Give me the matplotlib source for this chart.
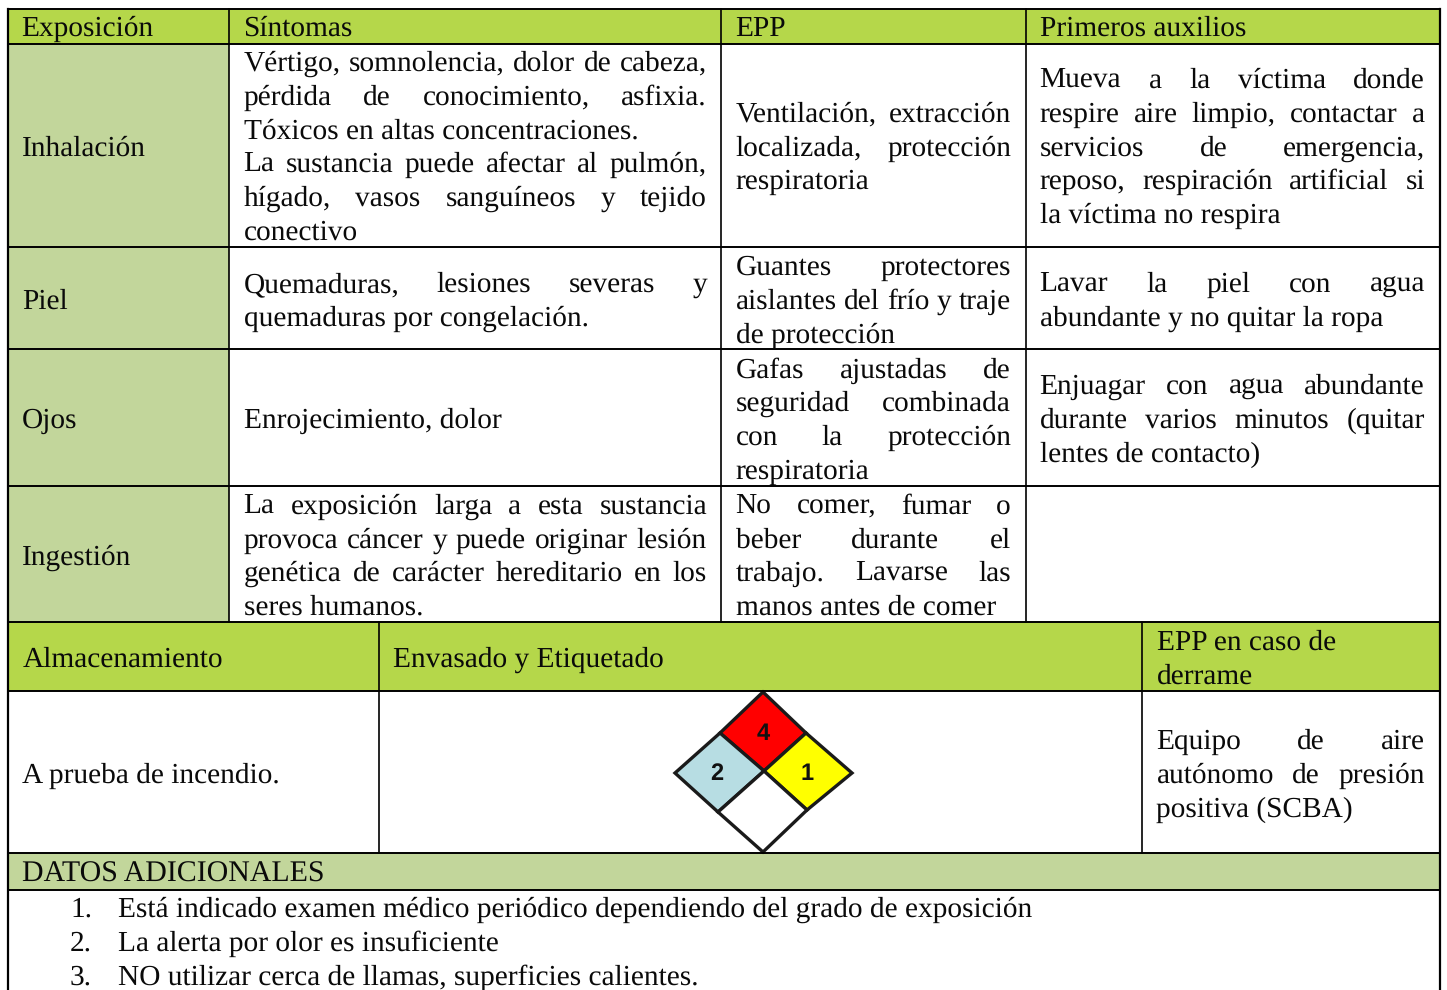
import matplotlib
matplotlib.use('Agg')
import matplotlib.pyplot as plt
from matplotlib.patches import Polygon, Rectangle

plt.rcParams['font.family'] = ['Liberation Serif', 'DejaVu Serif']
plt.rcParams['text.hinting'] = 'no_hinting'

VERDE = '#b5d74a'
VERDE_CLARO = '#c2d69b'
TAM = 21.12

# encabezados
encabezados = ['Exposición', 'Síntomas', 'EPP', 'Primeros auxilios']
exposicion = ['Inhalación', 'Piel', 'Ojos', 'Ingestión']

# cada linea: texto y si va justificada
sintomas = [
    [('Vértigo, somnolencia, dolor de cabeza,', 1), ('pérdida de conocimiento, asfixia.', 1),
     ('Tóxicos en altas concentraciones.', 0), ('La sustancia puede afectar al pulmón,', 1),
     ('hígado, vasos sanguíneos y tejido', 1), ('conectivo', 0)],
    [('Quemaduras, lesiones severas y', 1), ('quemaduras por congelación.', 0)],
    [('Enrojecimiento, dolor', 0)],
    [('La exposición larga a esta sustancia', 1), ('provoca cáncer y puede originar lesión', 1),
     ('genética de carácter hereditario en los', 1), ('seres humanos.', 0)],
]
epp = [
    [('Ventilación, extracción', 1), ('localizada, protección', 1), ('respiratoria', 0)],
    [('Guantes protectores', 1), ('aislantes del frío y traje', 1), ('de protección', 0)],
    [('Gafas ajustadas de', 1), ('seguridad combinada', 1), ('con la protección', 1), ('respiratoria', 0)],
    [('No comer, fumar o', 1), ('beber durante el', 1), ('trabajo. Lavarse las', 1), ('manos antes de comer', 0)],
]
auxilios = [
    [('Mueva a la víctima donde', 1), ('respire aire limpio, contactar a', 1),
     ('servicios de emergencia,', 1), ('reposo, respiración artificial si', 1),
     ('la víctima no respira', 0)],
    [('Lavar la piel con agua', 1), ('abundante y no quitar la ropa', 0)],
    [('Enjuagar con agua abundante', 1), ('durante varios minutos (quitar', 1),
     ('lentes de contacto)', 0)],
    [],
]

# lineas base de cada celda
y_sintomas = [[71, 105, 139, 172, 206, 240], [292, 326], [428], [514, 548, 581, 615]]
y_epp = [[122, 156, 189], [275, 309, 343], [378, 411, 445, 479], [514, 548, 581, 615]]
y_auxilios = [[88, 122, 156, 189, 223], [292, 326], [394, 428, 462], []]
y_exposicion = [156, 309, 428, 565]

# geometria de la tabla
filas_y = [9, 44, 247, 349, 486, 622, 691, 853, 890, 990]
col_x = [8, 229, 721, 1026, 1440]
col2_x = [8, 379, 1142, 1440]

datos_adicionales = [
    'Está indicado examen médico periódico dependiendo del grado de exposición',
    'La alerta por olor es insuficiente',
    'NO utilizar cerca de llamas, superficies calientes.',
]

# rombo NFPA
rombo_rojo = [(763, 692), (806, 733), (764, 771), (720, 733)]
rombo_azul = [(720, 733), (764, 771), (718, 812), (675, 773)]
rombo_amarillo = [(806, 733), (852, 773), (807, 810), (764, 771)]
rombo_blanco = [(764, 771), (807, 810), (763, 852), (718, 812)]

fig = plt.figure(figsize=(14.47, 9.90), dpi=100)
ax = fig.add_axes([0, 0, 1, 1])
ax.set_xlim(0, 1447)
ax.set_ylim(990, 0)
ax.axis('off')
rend = fig.canvas.get_renderer()


def ancho(s):
    t = ax.text(0, 0, s, fontsize=TAM)
    w = t.get_window_extent(rend).width
    t.remove()
    return w


def escribir(s, x, y, justificar=False, x_fin=None, tam=TAM):
    if not justificar:
        ax.text(x, y, s, fontsize=tam, va='baseline', color='#0a0a0a')
        return
    palabras = s.split()
    anchos = [ancho(p) for p in palabras]
    hueco = (x_fin - x - sum(anchos)) / (len(palabras) - 1)
    for p, w in zip(palabras, anchos):
        ax.text(x, y, p, fontsize=tam, va='baseline', color='#0a0a0a')
        x += w + hueco


def columna(celdas, ys, x0, x1):
    for celda, yy in zip(celdas, ys):
        for (s, j), y in zip(celda, yy):
            escribir(s, x0, y, j == 1, x1)


def relleno(x0, y0, x1, y1, color):
    ax.add_patch(Rectangle((x0, y0), x1 - x0, y1 - y0, facecolor=color, edgecolor='none'))


# fondos
relleno(col_x[0], filas_y[0], col_x[-1], filas_y[1], VERDE)
relleno(col_x[0], filas_y[1], col_x[1], filas_y[5], VERDE_CLARO)
relleno(col_x[0], filas_y[5], col_x[-1], filas_y[6], VERDE)
relleno(col_x[0], filas_y[7], col_x[-1], filas_y[8], VERDE_CLARO)

# lineas
for y in filas_y[:-1]:
    ax.plot([col_x[0], col_x[-1]], [y, y], color='black', lw=1.4)
for x in col_x[1:-1]:
    ax.plot([x, x], [filas_y[0], filas_y[5]], color='black', lw=1.2)
for x in col2_x[1:-1]:
    ax.plot([x, x], [filas_y[5], filas_y[7]], color='black', lw=1.2)
for x in [col_x[0], col_x[-1]]:
    ax.plot([x, x], [filas_y[0], filas_y[-1]], color='black', lw=1.6)

# textos parte superior
for s, x in zip(encabezados, [21.5, 243.5, 735.5, 1040]):
    escribir(s, x, 36)
for s, y in zip(exposicion, y_exposicion):
    escribir(s, 22, y)
columna(sintomas, y_sintomas, 243.5, 707)
columna(epp, y_epp, 735.5, 1011)
columna(auxilios, y_auxilios, 1039.5, 1425)

# parte inferior
escribir('Almacenamiento', 22.5, 667)
escribir('Envasado y Etiquetado', 393, 667)
escribir('EPP en caso de', 1157, 650)
escribir('derrame', 1157, 684)
escribir('A prueba de incendio.', 22.5, 783)
escribir('Equipo de aire', 1156.5, 749, True, 1425)
escribir('autónomo de presión', 1156.5, 783, True, 1425)
escribir('positiva (SCBA)', 1156.5, 817)
escribir('DATOS ADICIONALES', 22, 882, tam=21.5)
for i, (s, y) in enumerate(zip(datos_adicionales, [917, 951, 985])):
    escribir(f'{i + 1}.', 70, y)
    escribir(s, 118, y)

# rombo
for pts, color in [(rombo_rojo, '#ff0000'), (rombo_azul, '#b7dde3'),
                   (rombo_amarillo, '#ffff00'), (rombo_blanco, 'white')]:
    ax.add_patch(Polygon(pts, closed=True, facecolor=color, edgecolor='#1a1a1a', lw=2.4, joinstyle='miter'))
for s, x, y in [('4', 763, 734), ('2', 717, 774), ('1', 807, 774)]:
    ax.text(x, y, s, fontsize=17, fontweight='bold', family='Liberation Sans',
            ha='center', va='center', color='#111111')

fig.savefig('out.png', dpi=100)
